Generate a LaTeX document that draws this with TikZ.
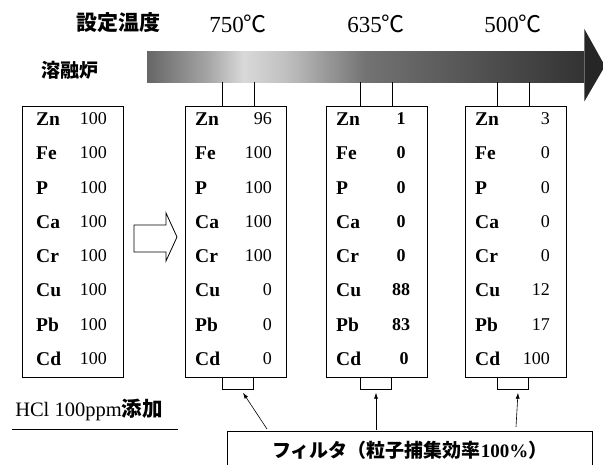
\documentclass[tikz,border=0pt]{standalone}
\usepackage{fontspec}
\setmainfont{Liberation Serif}
\newfontfamily\cjk{Noto Sans CJK JP}
\usetikzlibrary{positioning,arrows.meta}
\pgfdeclarehorizontalshading{furnace}{100bp}{color(0bp)=(black!60); color(25bp)=(black!60); color(32bp)=(black!35); color(36bp)=(black!15); color(41bp)=(black!25); color(50bp)=(black!55); color(60bp)=(black!65); color(75bp)=(black!80); color(100bp)=(black!80)}
\begin{document}
\begin{tikzpicture}[x=1pt, y=-1pt, every node/.style={inner sep=0pt},
    tank/.style={draw, line width=1.4pt, minimum width=101pt, minimum height=271pt, anchor=north west},
    elem/.style={anchor=west, font=\fontsize{19.5}{20}\selectfont\bfseries},
    val/.style={anchor=east, font=\fontsize{18}{20}\selectfont},
    valc/.style={anchor=center, font=\fontsize{18}{20}\selectfont\bfseries},
    tab/.style={draw, line width=0.7pt, minimum width=31pt, minimum height=12pt, anchor=north},
    ttl/.style={font=\fontsize{21}{22}\selectfont\cjk\bfseries},
    temp/.style={font=\fontsize{23}{24}\selectfont}]
  \useasboundingbox (0,0) rectangle (603,465);

  %––––– header –––––
  \node[ttl] (settei) at (118,23) {設定温度};
  \node[temp] (t750) at (238,24) {750\cjk{℃}};
  \node[temp] (t635) at (376,24) {635\cjk{℃}};
  \node[temp] (t500) at (513,24) {500\cjk{℃}};

  %––––– furnace –––––
  \node[ttl, font=\fontsize{19}{20}\selectfont\cjk\bfseries] (furnace) at (70,70) {溶融炉};
  \node[shading=furnace, minimum width=437pt, minimum height=31pt, anchor=north west] (bar) at (147,51) {};
  \fill[black!85] ([yshift=22pt]bar.north east) -- (605,66) -- ([yshift=-19pt]bar.south east) -- cycle;

  %––––– feed –––––
  \node[tank] (box0) at (22,106) {};
  \node[elem] (b0r1) at (36,119) {Zn}; \node[val] (b0v1) at (107,119) {100};
  \node[elem] (b0r2) at (36,153) {Fe}; \node[val] (b0v2) at (107,153) {100};
  \node[elem] (b0r3) at (36,188) {P};  \node[val] (b0v3) at (107,188) {100};
  \node[elem] (b0r4) at (36,222) {Ca}; \node[val] (b0v4) at (107,222) {100};
  \node[elem] (b0r5) at (36,256) {Cr}; \node[val] (b0v5) at (107,256) {100};
  \node[elem] (b0r6) at (36,290) {Cu}; \node[val] (b0v6) at (107,290) {100};
  \node[elem] (b0r7) at (36,325) {Pb}; \node[val] (b0v7) at (107,325) {100};
  \node[elem] (b0r8) at (36,359) {Cd}; \node[val] (b0v8) at (107,359) {100};

  \draw[line width=0.8pt] (134,225) -- (166,225) -- (166,213) -- (177,237) -- (166,261) -- (166,252) -- (134,252) -- cycle;

  %––––– 750 –––––
  \node[tank] (box1) at (185,106) {};
  \node[elem] (b1r1) at (195,119) {Zn}; \node[val] (b1v1) at (272,119) {96};
  \node[elem] (b1r2) at (195,153) {Fe}; \node[val] (b1v2) at (272,153) {100};
  \node[elem] (b1r3) at (195,188) {P};  \node[val] (b1v3) at (272,188) {100};
  \node[elem] (b1r4) at (195,222) {Ca}; \node[val] (b1v4) at (272,222) {100};
  \node[elem] (b1r5) at (195,256) {Cr}; \node[val] (b1v5) at (272,256) {100};
  \node[elem] (b1r6) at (195,290) {Cu}; \node[val] (b1v6) at (272,290) {0};
  \node[elem] (b1r7) at (195,325) {Pb}; \node[val] (b1v7) at (272,325) {0};
  \node[elem] (b1r8) at (195,359) {Cd}; \node[val] (b1v8) at (272,359) {0};
  \node[tab] (t1) at (238,377) {};

  %––––– 635 –––––
  \node[tank] (box2) at (326,106) {};
  \node[elem] (b2r1) at (336,119) {Zn}; \node[valc] (b2v1) at (401,119) {1};
  \node[elem] (b2r2) at (336,153) {Fe}; \node[valc] (b2v2) at (401,153) {0};
  \node[elem] (b2r3) at (336,188) {P};  \node[valc] (b2v3) at (401,188) {0};
  \node[elem] (b2r4) at (336,222) {Ca}; \node[valc] (b2v4) at (401,222) {0};
  \node[elem] (b2r5) at (336,256) {Cr}; \node[valc] (b2v5) at (401,256) {0};
  \node[elem] (b2r6) at (336,290) {Cu}; \node[valc] (b2v6) at (401,290) {88};
  \node[elem] (b2r7) at (336,325) {Pb}; \node[valc] (b2v7) at (401,325) {83};
  \node[elem] (b2r8) at (336,359) {Cd}; \node[valc] (b2v8) at (404,359) {0};
  \node[tab] (t2) at (376,377) {};

  %––––– 500 –––––
  \node[tank] (box3) at (465,106) {};
  \node[elem] (b3r1) at (475,119) {Zn}; \node[val] (b3v1) at (550,119) {3};
  \node[elem] (b3r2) at (475,153) {Fe}; \node[val] (b3v2) at (550,153) {0};
  \node[elem] (b3r3) at (475,188) {P};  \node[val] (b3v3) at (550,188) {0};
  \node[elem] (b3r4) at (475,222) {Ca}; \node[val] (b3v4) at (550,222) {0};
  \node[elem] (b3r5) at (475,256) {Cr}; \node[val] (b3v5) at (550,256) {0};
  \node[elem] (b3r6) at (475,290) {Cu}; \node[val] (b3v6) at (550,290) {12};
  \node[elem] (b3r7) at (475,325) {Pb}; \node[val] (b3v7) at (550,325) {17};
  \node[elem] (b3r8) at (475,359) {Cd}; \node[val] (b3v8) at (550,359) {100};
  \node[tab] (t3) at (513,377) {};

  %––––– pipes –––––
  \draw[line width=0.7pt] (t1.north west |- box1.north) -- (t1.north west |- bar.south);
  \draw[line width=0.7pt] (t1.north east |- box1.north) -- (t1.north east |- bar.south);
  \draw[line width=0.7pt] (t2.north west |- box2.north) -- (t2.north west |- bar.south);
  \draw[line width=0.7pt] (t2.north east |- box2.north) -- (t2.north east |- bar.south);
  \draw[line width=0.7pt] (t3.north west |- box3.north) -- (t3.north west |- bar.south);
  \draw[line width=0.7pt] (t3.north east |- box3.north) -- (t3.north east |- bar.south);

  %––––– filter –––––
  \node[font=\fontsize{20.5}{21}\selectfont] (hcl) at (89,410) {HCl 100ppm{\cjk\bfseries 添加}};
  \draw[line width=0.6pt] (12,429) -- (178,429);
  \node[draw, line width=0.7pt, minimum width=365pt, minimum height=38pt, anchor=north west,
        font=\fontsize{19}{20}\selectfont\cjk\bfseries] (filter) at (227,431)
        {フィルタ（粒子捕集効率{\rmfamily\bfseries 100\%}）};
  \coordinate (p1) at (267,429);
  \coordinate (p2) at (376,430);
  \coordinate (p3) at (516,427);
  \draw[line width=0.6pt, -{Latex[length=6pt,width=4pt]}] (p1) -- ([shift={(5pt,-3pt)}]t1.south);
  \draw[line width=0.6pt, -{Latex[length=6pt,width=4pt]}] (p2) -- ([yshift=-3pt]t2.south);
  \draw[line width=0.6pt, -{Latex[length=6pt,width=4pt]}] (p3) -- ([shift={(5pt,-3pt)}]t3.south);
\end{tikzpicture}
\end{document}
